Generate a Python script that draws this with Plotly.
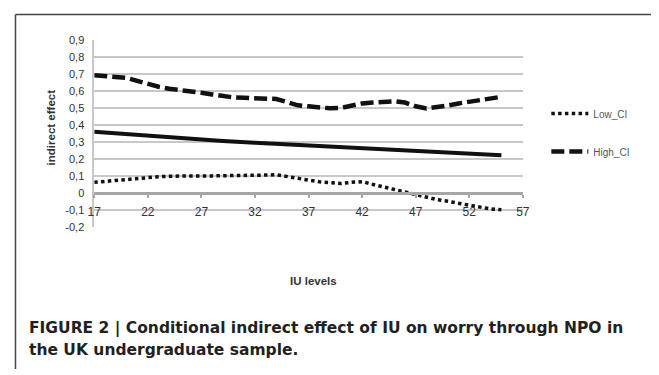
import plotly.graph_objects as go

iu_levels = list(range(17, 56))
low_ci = [0.062, 0.068, 0.072, 0.078, 0.082, 0.088, 0.095, 0.098, 0.100, 0.100,
          0.100, 0.100, 0.100, 0.100, 0.100, 0.103, 0.105, 0.107, 0.095, 0.085,
          0.075, 0.065, 0.058, 0.055, 0.062, 0.066, 0.050, 0.033, 0.020, 0.005,
          -0.010, -0.028, -0.040, -0.050, -0.062, -0.075, -0.088, -0.095, -0.100]
high_ci = [0.693, 0.688, 0.684, 0.678, 0.660, 0.640, 0.625, 0.613, 0.607, 0.600,
           0.590, 0.580, 0.568, 0.562, 0.560, 0.558, 0.557, 0.553, 0.535, 0.516,
           0.510, 0.505, 0.498, 0.500, 0.515, 0.527, 0.532, 0.535, 0.540, 0.532,
           0.510, 0.497, 0.503, 0.515, 0.527, 0.537, 0.548, 0.556, 0.566]
effect_x = [17, 20, 23, 26, 29, 32, 35, 38, 41, 44, 47, 50, 53, 55]
effect = [0.360, 0.345, 0.330, 0.317, 0.305, 0.295, 0.285, 0.275, 0.265, 0.255,
          0.244, 0.234, 0.226, 0.221]

x_ticks = [17, 22, 27, 32, 37, 42, 47, 52, 57]
y_ticks = [0.9, 0.8, 0.7, 0.6, 0.5, 0.4, 0.3, 0.2, 0.1, 0, -0.1, -0.2]
y_tick_labels = ["0,9", "0,8", "0,7", "0,6", "0,5", "0,4", "0,3", "0,2", "0,1", "0", "-0,1", "-0,2"]

# the page body has an 8px default margin; work in screen pixels
OFF = 8
W, H = 659 - OFF, 375 - OFF


def PX(px):
    return (px - OFF) / W


def PY(py):
    return 1 - (py - OFF) / H


x0px, x1px = 89, 527
ytop, ybot = 35, 228
yzero = 193

fig = go.Figure()
fig.add_trace(go.Scatter(x=effect_x, y=effect, mode="lines", name="Effect",
                         line=dict(color="#111111", width=4), showlegend=False))
fig.add_trace(go.Scatter(x=iu_levels, y=low_ci, mode="lines", name="Low_CI",
                         legendgroup="a",
                         line=dict(color="#111111", width=3.5, dash="3.5px,3.3px")))
fig.add_trace(go.Scatter(x=iu_levels, y=high_ci, mode="lines", name="High_CI",
                         legendgroup="b",
                         line=dict(color="#111111", width=4.5, dash="13px,5px")))

fig.update_layout(
    width=W, height=H,
    margin=dict(l=0, r=0, t=0, b=0),
    paper_bgcolor="white", plot_bgcolor="white",
    font=dict(family="Liberation Sans", color="#333333"),
    xaxis=dict(
        domain=[PX(x0px), PX(x1px)], range=[17, 57],
        anchor="free", position=PY(yzero),
        tickvals=x_ticks, ticktext=[str(v) for v in x_ticks],
        showgrid=False, zeroline=False,
        showline=True, linecolor="#a6a6a6", linewidth=3,
        ticks="outside", ticklen=3, tickcolor="#a6a6a6", tickwidth=2,
        ticklabelstandoff=4,
        tickfont=dict(size=12, color="#333333"),
    ),
    yaxis=dict(
        domain=[PY(ybot), PY(ytop)], range=[-0.2, 0.9],
        tickvals=y_ticks, ticktext=y_tick_labels,
        showgrid=True, gridcolor="#c8c8c8", gridwidth=2,
        zeroline=False, showline=True, linecolor="#c8c8c8", linewidth=1.5,
        ticks="", ticklabelstandoff=6,
        tickfont=dict(size=11, color="#333333"),
    ),
    legend=dict(x=PX(551), y=PY(96), xanchor="left", yanchor="top",
                font=dict(size=10, color="#555555"),
                itemwidth=37,
                traceorder="grouped", tracegroupgap=19,
                bgcolor="rgba(0,0,0,0)"),
    showlegend=True,
)

fig.add_annotation(x=PX(45), y=PY(125), xref="paper", yref="paper",
                   xanchor="center", yanchor="middle",
                   text="<b>indirect effect</b>", textangle=-90, showarrow=False,
                   font=dict(size=11.5, color="#333333"))
fig.add_annotation(x=PX(313), y=PY(284), xref="paper", yref="paper",
                   xanchor="center", yanchor="middle",
                   text="<b>IU levels</b>", showarrow=False,
                   font=dict(size=11.5, color="#333333"))
fig.add_annotation(x=PX(20), y=PY(333.5), xref="paper", yref="paper",
                   xanchor="left", yanchor="middle",
                   text="<b>FIGURE 2 | Conditional indirect effect of IU on worry through NPO in</b>",
                   showarrow=False,
                   font=dict(family="DejaVu Sans", size=15.5, color="#231f20"))
fig.add_annotation(x=PX(20), y=PY(355.5), xref="paper", yref="paper",
                   xanchor="left", yanchor="middle",
                   text="<b>the UK undergraduate sample.</b>",
                   showarrow=False,
                   font=dict(family="DejaVu Sans", size=15.5, color="#231f20"))

fig.add_shape(type="line", xref="paper", yref="paper", x0=PX(8.5), x1=1, y0=PY(8.5), y1=PY(8.5),
              line=dict(color="#444444", width=1.5))
fig.add_shape(type="line", xref="paper", yref="paper", x0=PX(8.5), x1=PX(8.5), y0=0, y1=PY(8.5),
              line=dict(color="#444444", width=1.5))

fig.write_html("out.html")
